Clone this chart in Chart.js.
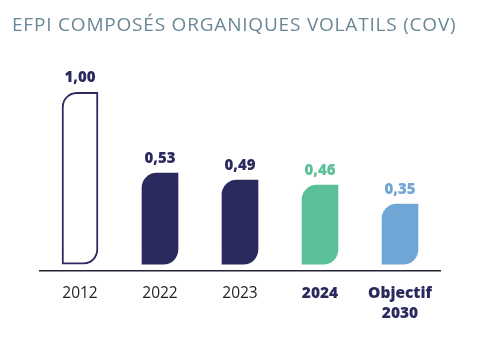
<!DOCTYPE html>
<html lang="fr">
<head>
  <meta charset="UTF-8">
  <title>EFPI COV</title>
  <script src="https://cdn.jsdelivr.net/npm/chart.js"></script>
  <style>
    body { margin: 0; background: #fff; }
    #wrap { position: relative; width: 495px; height: 342px; }
    #titre {
      position: absolute; left: 12px; top: 11px;
      font-family: "Open Sans", sans-serif; font-size: 19px; font-weight: 500;
      color: #6a8797; letter-spacing: 0.8px; white-space: nowrap;
    }
  </style>
</head>
<body>
  <div id="wrap">
    <div id="titre">EFPI COMPOSÉS ORGANIQUES VOLATILS (COV)</div>
    <canvas id="covChart" width="495" height="342"></canvas>
  </div>

  <script>
    const annees = ['2012', '2022', '2023', '2024', ['Objectif', '2030']];
    const valeurs = [1.00, 0.53, 0.49, 0.46, 0.35];
    const etiquettes = ['1,00', '0,53', '0,49', '0,46', '0,35'];

    const marine = '#2b2a5e';
    const couleursBarres = ['#ffffff', marine, marine, '#5bbf98', '#6fa6d6'];
    const couleursTextes = [marine, marine, marine, '#5bbf98', '#6fa6d6'];

    // valeurs au-dessus des barres
    const valeursPlugin = {
      id: 'valeurs',
      afterDatasetsDraw(chart) {
        const ctx = chart.ctx;
        const meta = chart.getDatasetMeta(0);
        ctx.save();
        ctx.font = '800 15px "Open Sans", sans-serif';
        ctx.textAlign = 'center';
        ctx.textBaseline = 'bottom';
        meta.data.forEach((bar, i) => {
          ctx.fillStyle = couleursTextes[i];
          ctx.fillText(etiquettes[i], bar.x, bar.y - 7);
        });
        ctx.restore();
      }
    };

    new Chart(document.getElementById('covChart'), {
      type: 'bar',
      data: {
        labels: annees,
        datasets: [{
          data: valeurs,
          backgroundColor: couleursBarres,
          borderColor: marine,
          borderWidth: ctx => ctx.dataIndex === 0 ? 2 : 0,
          borderSkipped: false,
          borderRadius: { topLeft: 15, topRight: 0, bottomLeft: 0, bottomRight: 15 },
          barThickness: 36
        }]
      },
      options: {
        responsive: false,
        animation: false,
        layout: { padding: { left: 40, right: 55, top: 58, bottom: 5 } },
        plugins: { legend: { display: false }, tooltip: { enabled: false } },
        scales: {
          y: { display: false, min: -0.035, max: 1.2 },
          x: {
            grid: { display: false, drawTicks: false },
            border: { display: true, color: '#222233', width: 1.5 },
            ticks: {
              padding: 14,
              maxRotation: 0,
              color: c => c.index >= 3 ? marine : '#1e1e24',
              font: c => ({
                family: '"Open Sans", sans-serif',
                size: 15.5,
                weight: c.index >= 3 ? '800' : 'normal',
                lineHeight: 1.25
              })
            }
          }
        }
      },
      plugins: [valeursPlugin]
    });
  </script>
</body>
</html>
